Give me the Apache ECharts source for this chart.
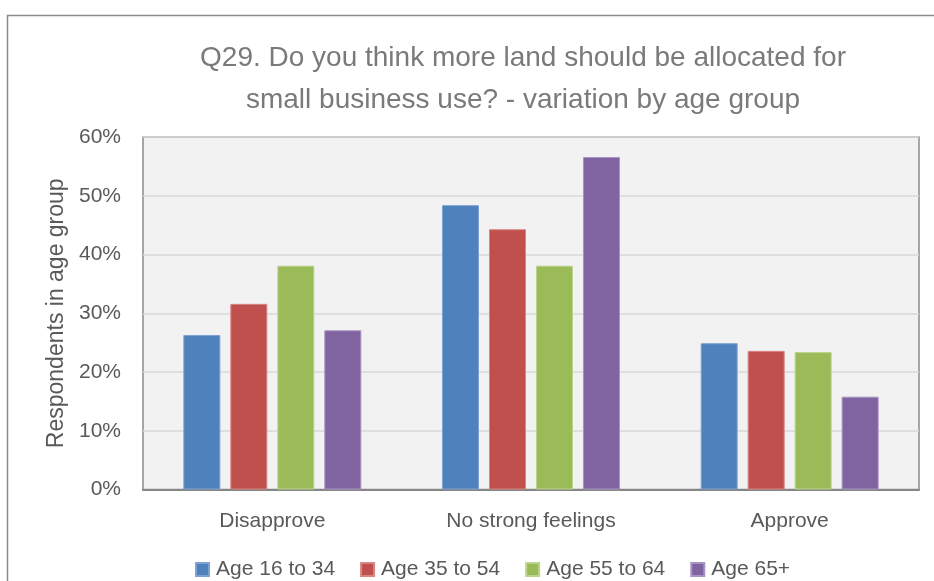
<!DOCTYPE html>
<html><head><meta charset="utf-8">
<script src="https://cdn.jsdelivr.net/npm/echarts@6/dist/echarts.min.js"></script>
<style>html,body{margin:0;padding:0;background:#fff}#c{width:934px;height:581px}</style>
</head><body><div id="c"></div>
<script>
const categories = ['Disapprove', 'No strong feelings', 'Approve'];
const seriesNames = ['Age 16 to 34', 'Age 35 to 54', 'Age 55 to 64', 'Age 65+'];
const age16to34 = [26.3, 48.4, 24.9];
const age35to54 = [31.6, 44.3, 23.6];
const age55to64 = [38.1, 38.1, 23.4];
const age65plus = [27.1, 56.6, 15.8];
const colors = ['#4f81bd', '#c0504d', '#9bbb59', '#8064a2'];
const borders = ['#7ea3d3', '#d98583', '#bdd48f', '#a893c2'];
const allValues = [age16to34, age35to54, age55to64, age65plus];
const font = '"Liberation Sans", Arial, sans-serif';

const chart = echarts.init(document.getElementById('c'), null, {renderer: 'canvas'});
chart.setOption({
  animation: false,
  backgroundColor: '#ffffff',
  graphic: [{
    type: 'rect', left: 5, top: 13, z: -1,
    shape: {x: 0, y: 0, width: 1000, height: 1000},
    style: {fill: 'none', stroke: '#8c8c8c', lineWidth: 1.5}
  }],
  title: {
    text: 'Q29. Do you think more land should be allocated for\nsmall business use? - variation by age group',
    left: 518, top: 32, textAlign: 'center',
    textStyle: {fontFamily: font, fontSize: 28, fontWeight: 'normal', color: '#7a7a7a', lineHeight: 42}
  },
  legend: {
    data: seriesNames, left: 190, top: 554, itemWidth: 13, itemHeight: 13, itemGap: 25,
    icon: 'rect',
    textStyle: {fontFamily: font, fontSize: 21, color: '#595959', padding: [0, 0, 0, 2]}
  },
  grid: {
    left: 143, right: 15, top: 137, bottom: 91.5, show: true,
    backgroundColor: '#f2f2f2', borderColor: '#8c8c8c', borderWidth: 1.5
  },
  xAxis: {
    type: 'category', data: categories,
    axisLine: {lineStyle: {color: '#868686', width: 2}},
    axisTick: {show: false},
    axisLabel: {fontFamily: font, fontSize: 21, color: '#595959', margin: 21}
  },
  yAxis: {
    type: 'value', min: 0, max: 60, interval: 10,
    name: 'Respondents in age group', nameLocation: 'middle', nameGap: 74,
    nameTextStyle: {fontFamily: font, fontSize: 23, color: '#595959'},
    axisLine: {show: false}, axisTick: {show: false},
    axisLabel: {formatter: '{value}%', fontFamily: font, fontSize: 21, color: '#595959', margin: 22},
    splitLine: {lineStyle: {color: '#d9d9d9', width: 1.5}}
  },
  series: allValues.map((vals, i) => ({
    name: seriesNames[i], type: 'bar', data: vals,
    barWidth: 37, barGap: '27%',
    itemStyle: {color: colors[i], borderColor: borders[i], borderWidth: 1}
  }))
});
</script></body></html>
